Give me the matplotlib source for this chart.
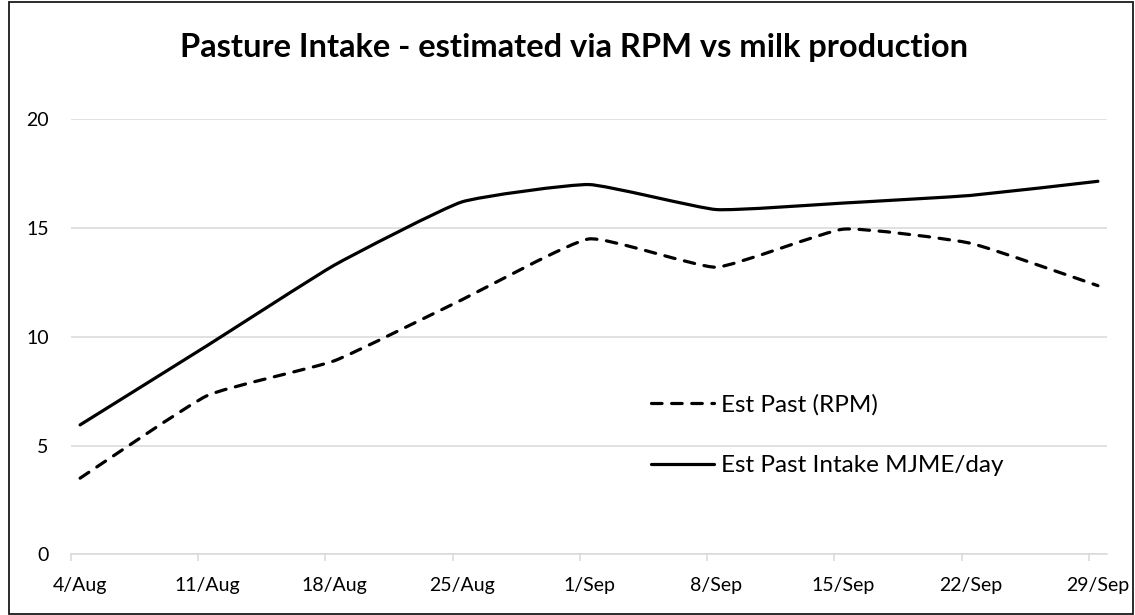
import numpy as np
import matplotlib
matplotlib.use("Agg")
import matplotlib.pyplot as plt
from matplotlib.path import Path
from matplotlib.patches import PathPatch, Rectangle
from matplotlib.lines import Line2D

# Weekly dates and estimated pasture intake
dates = ["4/Aug", "11/Aug", "18/Aug", "25/Aug", "1/Sep", "8/Sep", "15/Sep", "22/Sep", "29/Sep"]
est_past_rpm = [3.5, 7.3, 8.9, 11.7, 14.5, 13.2, 14.95, 14.3, 12.35]
est_past_intake = [5.95, 9.6, 13.3, 16.2, 17.0, 15.85, 16.15, 16.5, 17.15]

title = "Pasture Intake - estimated via RPM vs milk production"
label_rpm = "Est Past (RPM)"
label_intake = "Est Past Intake MJME/day"

FONT = ["Lato", "DejaVu Sans"]
plt.rcParams["font.family"] = FONT

W, H = 1135, 615
fig = plt.figure(figsize=(W / 100, H / 100), dpi=100)
fig.patch.set_facecolor("white")

# plot area in pixel units
left, right, top, bottom = 71, 1107, 119.3, 554.3
ax = fig.add_axes([left / W, (H - bottom) / H, (right - left) / W, (bottom - top) / H])

# each weekly value sits in the middle of a one-day slot
half_day = 0.5 / 7
x = np.arange(len(dates))


def smooth_path(xs, ys, k=0.07):
    """Cubic Bezier path through the points (light spreadsheet-style smoothing)."""
    pts = np.column_stack([xs, ys]).astype(float)
    n = len(pts)
    verts = [pts[0]]
    codes = [Path.MOVETO]
    for i in range(n - 1):
        p0 = pts[i - 1] if i > 0 else pts[i]
        p1 = pts[i]
        p2 = pts[i + 1]
        p3 = pts[i + 2] if i + 2 < n else pts[i + 1]
        c1 = p1 + (p2 - p0) * k
        c2 = p2 - (p3 - p1) * k
        verts += [c1, c2, p2]
        codes += [Path.CURVE4] * 3
    return Path(verts, codes)


lw = 2.3
dash = (3.3, 3.0)

ax.add_patch(PathPatch(smooth_path(x, est_past_rpm), fill=False, edgecolor="black",
                       lw=lw, linestyle=(0, dash), capstyle="round", zorder=3))
ax.add_patch(PathPatch(smooth_path(x, est_past_intake), fill=False, edgecolor="black",
                       lw=lw, capstyle="round", joinstyle="round", zorder=3))

# grid and axes styling
ax.set_yticks([0, 5, 10, 15, 20])
ax.yaxis.grid(True, color="#D9D9D9", lw=1.1)
ax.set_axisbelow(True)
for s in ["top", "right", "left"]:
    ax.spines[s].set_visible(False)
ax.spines["bottom"].set_color("#D9D9D9")
ax.spines["bottom"].set_linewidth(1.1)
ax.tick_params(axis="y", length=0, pad=16, labelsize=14, labelcolor="#000000")

ax.set_xticks(x)
ax.set_xticklabels(dates)
ax.set_xticks(x - half_day, minor=True)
ax.tick_params(axis="x", which="major", length=0, pad=16, labelsize=14)
ax.tick_params(axis="x", which="minor", length=5, width=1.1, color="#D9D9D9", direction="out")

ax.set_xlim(-half_day, len(dates) - 1 + half_day)
ax.set_ylim(0, 20)

fig.text(574 / W, 1 - 47 / H, title, ha="center", va="center", fontsize=23.5,
         fontweight="bold", family=FONT)

handles = [
    Line2D([], [], color="black", lw=lw, linestyle=(0, dash), dash_capstyle="round"),
    Line2D([], [], color="black", lw=lw, solid_capstyle="round"),
]
ax.legend(handles, [label_rpm, label_intake], loc="upper left",
          bbox_to_anchor=(629 / W, 1 - 372 / H), bbox_transform=fig.transFigure,
          frameon=False, fontsize=17.5, handlelength=2.6, handletextpad=0.3,
          labelspacing=1.63)

# chart border
fig.add_artist(Rectangle((8.5 / W, 1.5 / H), (1132.5 - 8.5) / W, (613.5 - 1.5) / H,
                         transform=fig.transFigure, fill=False, edgecolor="#1a1a1a",
                         lw=1.3))

fig.savefig("out.png", dpi=100, facecolor="white")
